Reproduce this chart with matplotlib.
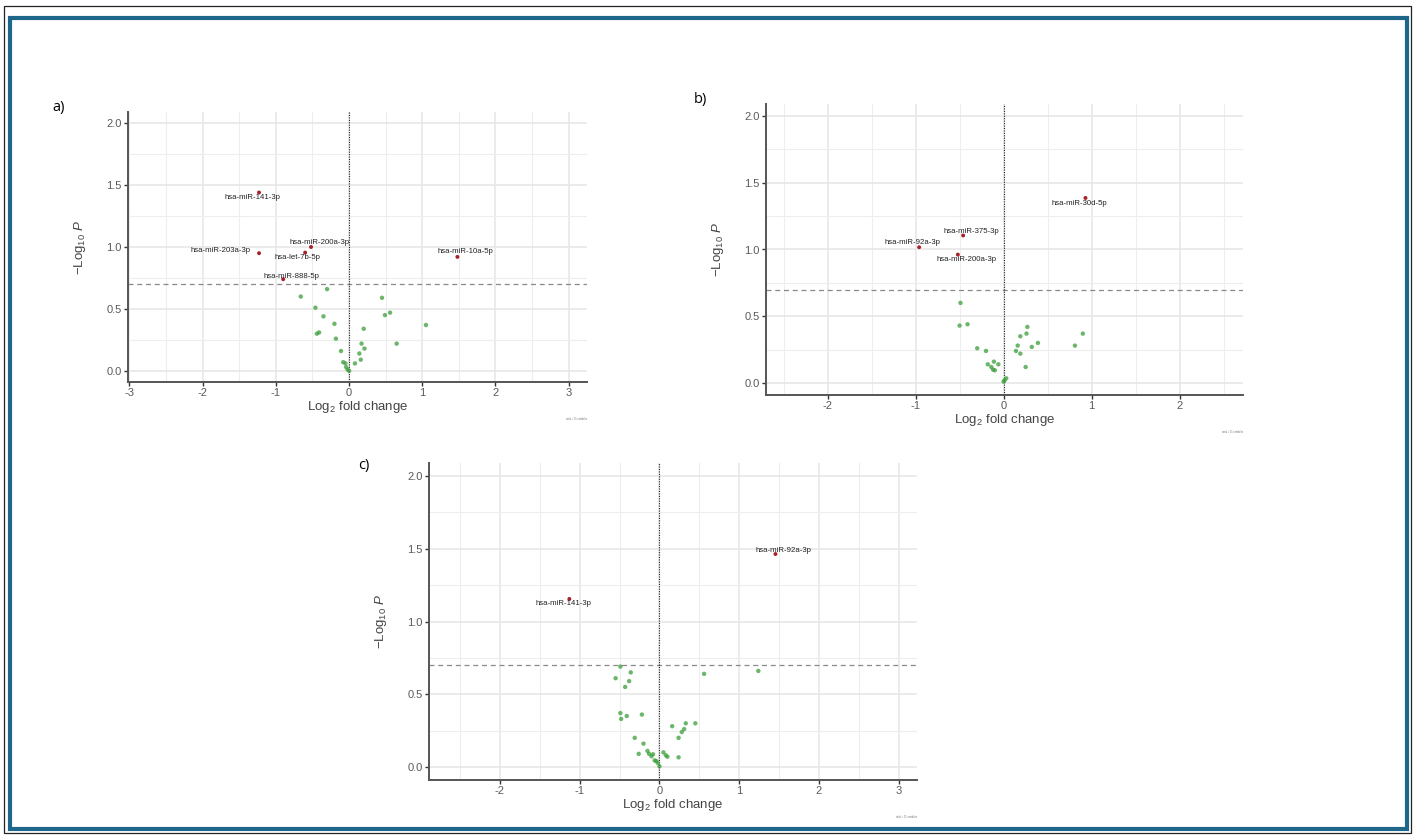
import numpy as np
import matplotlib
matplotlib.use('Agg')
import matplotlib.pyplot as plt
from matplotlib.patches import Rectangle
from matplotlib.ticker import MultipleLocator

plt.rcParams['font.family'] = ['Liberation Sans', 'DejaVu Sans']
plt.rcParams['mathtext.fontset'] = 'custom'
plt.rcParams['mathtext.rm'] = 'Liberation Sans'
plt.rcParams['mathtext.it'] = 'Liberation Sans:italic'

# a) 유의한 miRNA (빨강) / 나머지 (초록)
a_sig_names = ['hsa-miR-141-3p', 'hsa-miR-203a-3p', 'hsa-miR-200a-3p',
               'hsa-let-7b-5p', 'hsa-miR-888-5p', 'hsa-miR-10a-5p']
a_sig_fc = [-1.23, -1.23, -0.52, -0.60, -0.90, 1.48]
a_sig_p = [1.44, 0.95, 1.00, 0.955, 0.74, 0.92]
a_fc = [-0.30, -0.66, 0.45, -0.46, 0.56, 0.49, -0.35, -0.20, 1.05, 0.20, -0.41, -0.44, -0.18,
        0.17, 0.65, 0.21, -0.11, 0.14, 0.16, -0.08, -0.05, 0.08, -0.04, -0.02, 0.0]
a_p = [0.66, 0.60, 0.59, 0.51, 0.47, 0.45, 0.44, 0.38, 0.37, 0.34, 0.31, 0.30, 0.26,
       0.22, 0.22, 0.18, 0.16, 0.14, 0.09, 0.07, 0.06, 0.06, 0.03, 0.01, 0.0]

# b)
b_sig_names = ['hsa-miR-30d-5p', 'hsa-miR-375-3p', 'hsa-miR-92a-3p', 'hsa-miR-200a-3p']
b_sig_fc = [0.93, -0.46, -0.96, -0.52]
b_sig_p = [1.386, 1.105, 1.017, 0.962]
b_fc = [-0.49, -0.50, -0.41, 0.27, 0.90, 0.26, 0.19, -0.30, -0.20, 0.16, 0.81, 0.39, 0.32,
        0.14, 0.19, -0.18, -0.11, -0.06, -0.14, -0.12, -0.10, 0.25, 0.03, 0.01, 0.0]
b_p = [0.60, 0.43, 0.44, 0.42, 0.37, 0.37, 0.35, 0.26, 0.24, 0.28, 0.28, 0.30, 0.27,
       0.24, 0.22, 0.14, 0.16, 0.14, 0.12, 0.10, 0.095, 0.12, 0.035, 0.02, 0.01]

# c)
c_sig_names = ['hsa-miR-92a-3p', 'hsa-miR-141-3p']
c_sig_fc = [1.455, -1.13]
c_sig_p = [1.464, 1.155]
c_fc = [-0.49, -0.36, -0.55, -0.38, -0.43, 0.56, 1.24, -0.49, -0.41, -0.22, -0.48, 0.33, 0.45,
        0.16, 0.31, 0.28, 0.24, -0.31, -0.20, -0.15, 0.05, -0.26, -0.13, -0.08, -0.10, 0.08,
        0.10, 0.24, -0.06, -0.04, -0.02, 0.0]
c_p = [0.69, 0.65, 0.61, 0.59, 0.55, 0.64, 0.66, 0.37, 0.35, 0.36, 0.33, 0.30, 0.30,
       0.28, 0.26, 0.24, 0.20, 0.20, 0.16, 0.11, 0.10, 0.09, 0.09, 0.087, 0.073, 0.08,
       0.07, 0.066, 0.045, 0.04, 0.027, 0.004]

p_cut = 0.699  # -log10(0.2)

W, H = 1415, 836
fig = plt.figure(figsize=(W / 100, H / 100), dpi=100)


def px_axes(l, t, r, b):
    return fig.add_axes([l / W, 1 - b / H, (r - l) / W, (b - t) / H])


def volcano(ax, fc, p, sfc, sp, names, offs, xlim, xticks, hpx, wpx):
    ax.set_xlim(*xlim)
    ax.set_ylim(-0.09, 2.09)
    ax.xaxis.set_major_locator(MultipleLocator(1))
    ax.xaxis.set_minor_locator(MultipleLocator(0.5))
    ax.yaxis.set_major_locator(MultipleLocator(0.5))
    ax.yaxis.set_minor_locator(MultipleLocator(0.25))
    ax.set_xticks(xticks)
    ax.grid(which='major', color='#e6e6e6', lw=1.1, zorder=0)
    ax.grid(which='minor', color='#eeeeee', lw=0.8, zorder=0)
    ax.set_axisbelow(True)
    for s in ['top', 'right']:
        ax.spines[s].set_visible(False)
    for s in ['left', 'bottom']:
        ax.spines[s].set_color('#555555')
        ax.spines[s].set_linewidth(1.4)
    ax.tick_params(which='major', length=3, width=1, color='#333333',
                   labelsize=8, labelcolor='#5a5a5a', pad=1.5)
    ax.tick_params(which='minor', length=0)
    ax.yaxis.set_major_formatter(matplotlib.ticker.FormatStrFormatter('%.1f'))
    ax.xaxis.set_major_formatter(matplotlib.ticker.FuncFormatter(lambda v, _: '%d' % v))

    ax.axhline(p_cut, color='#888888', ls=(0, (4, 3)), lw=0.9, zorder=1)
    ax.axvline(0, color='#222222', ls=(0, (1, 1.2)), lw=0.8, zorder=1)

    ax.scatter(fc, p, s=10, color='#3a9e3a', alpha=0.75, edgecolors='none', zorder=3)
    ax.scatter(sfc, sp, s=8, color='#a8222a', edgecolors='none', zorder=3)
    for n, x, y, (dx, dy) in zip(names, sfc, sp, offs):
        ax.annotate(n, (x, y), xytext=(dx, dy), textcoords='offset pixels',
                    ha='center', va='center', fontsize=5.6, color='#222222', zorder=4)

    ax.set_xlabel('Log$_2$ fold change', fontsize=9.5, color='#444444')
    ax.xaxis.set_label_coords(0.5, -17 / hpx)
    ax.set_ylabel(r'$-$Log$_{10}$ $P$', fontsize=9.5, color='#444444')
    ax.yaxis.set_label_coords(-40 / wpx, 0.5)
    ax.text(1.0, -37 / hpx, 'total = 31 variables', transform=ax.transAxes,
            fontsize=1.8, color='#777777', ha='right', va='center')


# a)
ax_a = px_axes(128, 112, 587, 382)
volcano(ax_a, a_fc, a_p, a_sig_fc, a_sig_p, a_sig_names,
        [(-7, -5), (-39, 3), (8, 4), (-8, -5), (8, 3), (8, 5)],
        (-3.02, 3.25), [-3, -2, -1, 0, 1, 2, 3], 270, 459)

# b)
ax_b = px_axes(766, 104, 1243, 395)
volcano(ax_b, b_fc, b_p, b_sig_fc, b_sig_p, b_sig_names,
        [(-6, -6), (8, 4), (-7, 5), (9, -5)],
        (-2.7, 2.72), [-2, -1, 0, 1, 2], 291, 477)

# c)
ax_c = px_axes(429, 463, 917, 780)
volcano(ax_c, c_fc, c_p, c_sig_fc, c_sig_p, c_sig_names,
        [(8, 4), (-6, -5)],
        (-2.89, 3.23), [-2, -1, 0, 1, 2, 3], 317, 488)

# 패널 라벨
fig.text(52 / W, 1 - 108 / H, 'a)', fontsize=10.5, family='Open Sans', va='center')
fig.text(694 / W, 1 - 100 / H, 'b)', fontsize=10.5, family='Open Sans', va='center')
fig.text(358 / W, 1 - 466 / H, 'c)', fontsize=10.5, family='Open Sans', va='center')

# 테두리
fig.patches.append(Rectangle((4 / W, 1 - 833 / H), 1407 / W, 827 / H, transform=fig.transFigure,
                             fill=False, ec='#222222', lw=0.9))
fig.patches.append(Rectangle((10 / W, 1 - 829 / H), 1397 / W, 811 / H, transform=fig.transFigure,
                             fill=False, ec='#1f678a', lw=3.0))

fig.savefig('out.png', dpi=100)
